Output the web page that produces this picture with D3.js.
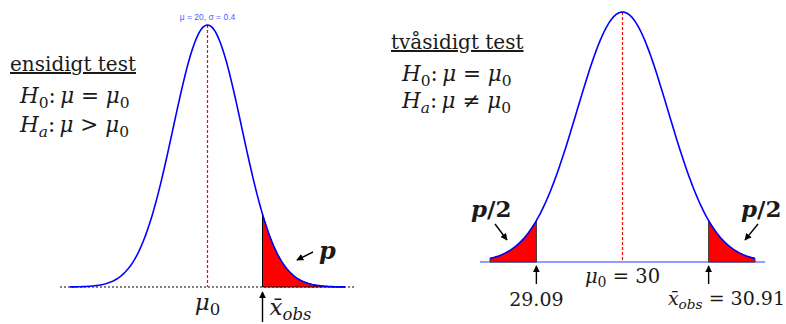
<!DOCTYPE html>
<html lang="en">
<head>
<meta charset="utf-8">
<title>Ensidigt och tvåsidigt test</title>
<script src="https://d3js.org/d3.v7.min.js"></script>
<style>
  body { margin: 0; background: #fff; }
  text { font-family: "DejaVu Serif", "Liberation Serif", serif; fill: #1a1a1a; }
</style>
</head>
<body>
<div id="chart"></div>
<script>
// one-sided test (left panel)
const leftMu = 20;
const leftSigma = 0.4;
const leftDomain = [18.4, 21.6];
const leftXobs = 20.64;

// two-sided test (right panel)
const rightMu = 30;
const rightSigma = 0.48;
const rightDomain = [28.6, 31.4];
const rightLower = 29.09;
const rightUpper = 30.91;

const W = 786, H = 324;

const svg = d3.select("#chart").append("svg")
  .attr("width", W)
  .attr("height", H);

svg.append("defs").append("marker")
  .attr("id", "head")
  .attr("viewBox", "0 0 10 10")
  .attr("refX", 9).attr("refY", 5)
  .attr("markerWidth", 7).attr("markerHeight", 7)
  .attr("markerUnits", "userSpaceOnUse")
  .attr("orient", "auto")
  .append("path")
  .attr("d", "M0,0 L10,5 L0,10 z")
  .attr("fill", "#000");

function pdf(x, mu, s) {
  return Math.exp(-0.5 * ((x - mu) / s) ** 2) / (s * Math.sqrt(2 * Math.PI));
}

function grid(a, b, n) {
  return d3.range(n + 1).map(i => a + (b - a) * i / n);
}

// math-ish text from segments: [text, style]
// r roman, i italic, s subscript, si italic subscript, b bold italic, bb bold
function mathText(g, x, y, segs, size, anchor) {
  const t = g.append("text")
    .attr("x", x).attr("y", y)
    .attr("font-size", size)
    .attr("text-anchor", anchor || "start");
  let shifted = false;
  segs.forEach(([s, st]) => {
    const sp = t.append("tspan").text(s);
    const sub = st === "s" || st === "si";
    if (sub && !shifted) { sp.attr("dy", size * 0.22); shifted = true; }
    if (!sub && shifted) { sp.attr("dy", -size * 0.22); shifted = false; }
    if (sub) sp.attr("font-size", size * 0.72);
    if (st === "i" || st === "si") sp.attr("font-style", "italic");
    if (st === "b") sp.attr("font-style", "italic").attr("font-weight", "bold");
    if (st === "bb") sp.attr("font-weight", "bold");
  });
  return t;
}

function arrow(g, x1, y1, x2, y2) {
  g.append("line")
    .attr("x1", x1).attr("y1", y1).attr("x2", x2).attr("y2", y2)
    .attr("stroke", "#000").attr("stroke-width", 1.4)
    .attr("marker-end", "url(#head)");
}

const h0 = [["H", "i"], ["0", "s"], [":\u2009", "r"], ["\u03bc", "i"], [" = ", "r"], ["\u03bc", "i"], ["0", "s"]];

// ---------- left panel ----------
const gl = svg.append("g");
const xl = d3.scaleLinear().domain(leftDomain).range([70, 345]);
const yl = d3.scaleLinear().domain([0, pdf(leftMu, leftMu, leftSigma)]).range([287, 25]);

gl.append("line")
  .attr("x1", 60).attr("x2", 355)
  .attr("y1", yl(0)).attr("y2", yl(0))
  .attr("stroke", "#000").attr("stroke-width", 1)
  .attr("stroke-dasharray", "2,2");

gl.append("path")
  .datum(grid(leftXobs, leftDomain[1], 80))
  .attr("d", d3.area().x(d => xl(d)).y0(yl(0)).y1(d => yl(pdf(d, leftMu, leftSigma))))
  .attr("fill", "#ff0000")
  .attr("stroke", "#000").attr("stroke-width", 1);

gl.append("line")
  .attr("x1", xl(leftMu)).attr("x2", xl(leftMu))
  .attr("y1", yl(pdf(leftMu, leftMu, leftSigma))).attr("y2", yl(0))
  .attr("stroke", "#ff0000").attr("stroke-width", 1.2)
  .attr("stroke-dasharray", "3,2");

gl.append("path")
  .datum(grid(leftDomain[0], leftDomain[1], 200))
  .attr("d", d3.line().x(d => xl(d)).y(d => yl(pdf(d, leftMu, leftSigma))))
  .attr("fill", "none")
  .attr("stroke", "#0000ff").attr("stroke-width", 1.6);

gl.append("text")
  .attr("x", xl(leftMu)).attr("y", 20)
  .attr("text-anchor", "middle")
  .attr("font-size", 8.5)
  .style("font-family", "'Liberation Sans', Arial, sans-serif")
  .style("fill", "#4a5cff")
  .text("\u03bc = " + leftMu + ", \u03c3 = " + leftSigma);

gl.append("text")
  .attr("x", 10).attr("y", 71)
  .attr("font-size", 20)
  .attr("text-decoration", "underline")
  .text("ensidigt test");

mathText(gl, 20, 103, h0, 21.5);
mathText(gl, 20, 132, [["H", "i"], ["a", "si"], [":\u2009", "r"], ["\u03bc", "i"], [" > ", "r"], ["\u03bc", "i"], ["0", "s"]], 21.5);

mathText(gl, xl(leftMu), 310, [["\u03bc", "i"], ["0", "s"]], 23, "middle");
arrow(gl, xl(leftXobs), 322, xl(leftXobs), 292);
mathText(gl, xl(leftXobs) + 7, 315, [["x\u0304", "i"], ["obs", "si"]], 23);

mathText(gl, 319, 259, [["p", "b"]], 24);
arrow(gl, 313, 252, 297, 260);

// ---------- right panel ----------
const gr = svg.append("g");
const xr = d3.scaleLinear().domain(rightDomain).range([490, 755]);
const yr = d3.scaleLinear().domain([0, pdf(rightMu, rightMu, rightSigma)]).range([262, 12]);

gr.append("line")
  .attr("x1", 480).attr("x2", 765)
  .attr("y1", yr(0)).attr("y2", yr(0))
  .attr("stroke", "#6f7cff").attr("stroke-width", 1.5);

const rArea = d3.area().x(d => xr(d)).y0(yr(0)).y1(d => yr(pdf(d, rightMu, rightSigma)));
[grid(rightDomain[0], rightLower, 60), grid(rightUpper, rightDomain[1], 60)].forEach(seg => {
  gr.append("path")
    .datum(seg)
    .attr("d", rArea)
    .attr("fill", "#ff0000")
    .attr("stroke", "#333").attr("stroke-width", 1);
});

gr.append("line")
  .attr("x1", xr(rightMu)).attr("x2", xr(rightMu))
  .attr("y1", yr(pdf(rightMu, rightMu, rightSigma))).attr("y2", yr(0))
  .attr("stroke", "#ff0000").attr("stroke-width", 1.2)
  .attr("stroke-dasharray", "3,2");

gr.append("path")
  .datum(grid(rightDomain[0], rightDomain[1], 200))
  .attr("d", d3.line().x(d => xr(d)).y(d => yr(pdf(d, rightMu, rightSigma))))
  .attr("fill", "none")
  .attr("stroke", "#0000ff").attr("stroke-width", 1.6);

gr.append("text")
  .attr("x", 391).attr("y", 49)
  .attr("font-size", 20)
  .attr("text-decoration", "underline")
  .text("tvåsidigt test");

mathText(gr, 402, 81, h0, 21.5);
mathText(gr, 402, 108, [["H", "i"], ["a", "si"], [":\u2009", "r"], ["\u03bc", "i"], [" \u2260 ", "r"], ["\u03bc", "i"], ["0", "s"]], 21.5);

mathText(gr, xr(rightMu), 283, [["\u03bc", "i"], ["0", "s"], [" = " + rightMu, "r"]], 19.5, "middle");

arrow(gr, xr(rightLower), 284, xr(rightLower), 266);
gr.append("text")
  .attr("x", xr(rightLower)).attr("y", 306)
  .attr("text-anchor", "middle")
  .attr("font-size", 19)
  .text(rightLower.toFixed(2));

arrow(gr, xr(rightUpper), 284, xr(rightUpper), 266);
mathText(gr, 785, 305, [["x\u0304", "i"], ["obs", "si"], [" = " + rightUpper.toFixed(2), "r"]], 19, "end");

mathText(gr, 471, 217, [["p", "b"], ["/2", "bb"]], 23);
arrow(gr, 495, 224, 507, 240);
mathText(gr, 741, 217, [["p", "b"], ["/2", "bb"]], 23);
arrow(gr, 758, 224, 745, 240);
</script>
</body>
</html>
